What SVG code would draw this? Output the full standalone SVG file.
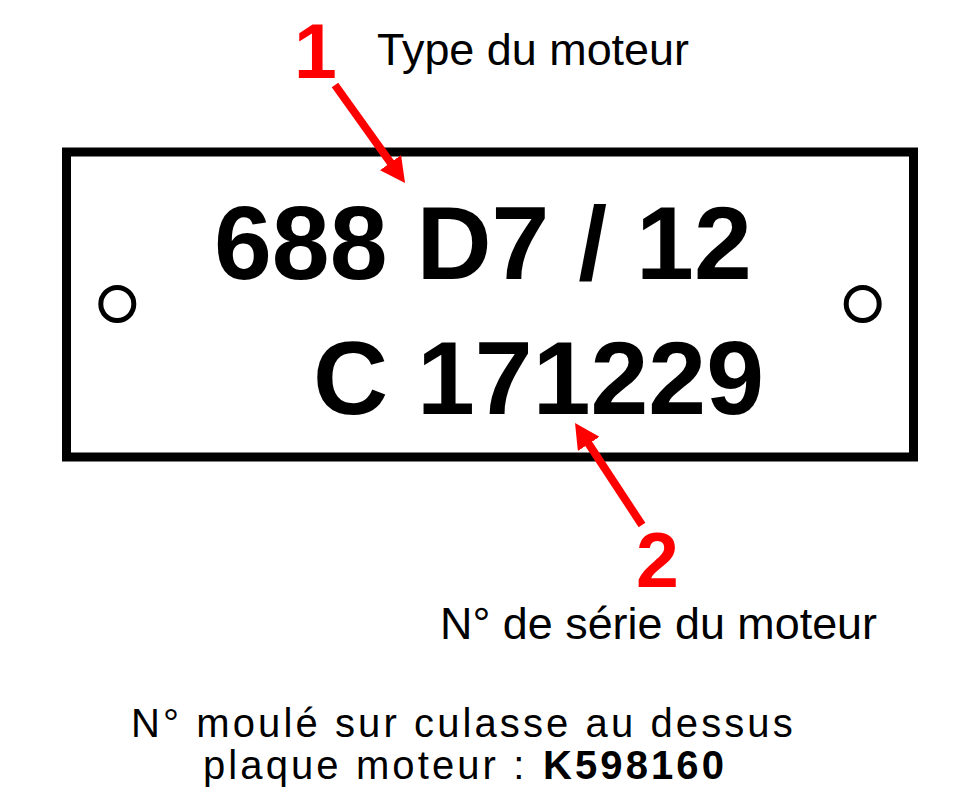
<svg xmlns="http://www.w3.org/2000/svg" width="964" height="800" viewBox="0 0 964 800">
  <style>
    .plate { fill: none; stroke: #000; stroke-width: 9; }
    .hole { fill: none; stroke: #000; stroke-width: 5; }
    .big { font-family: "Liberation Sans", Arial, sans-serif; font-weight: bold; font-size: 104px; fill: #000; }
    .num { font-family: "Liberation Sans", Arial, sans-serif; font-weight: bold; font-size: 77px; fill: #ff0000; }
    .lbl { font-family: "Liberation Sans", Arial, sans-serif; font-size: 44px; fill: #000; }
    .note { font-family: "Liberation Sans", Arial, sans-serif; font-size: 40px; fill: #000; letter-spacing: 3.1px; }
    .arrow { stroke: #ff0000; stroke-width: 8; fill: none; }
  </style>
  <defs>
    <marker id="head" viewBox="0 0 25 26" refX="5" refY="13" markerWidth="25" markerHeight="26" markerUnits="userSpaceOnUse" orient="auto">
      <path d="M0,0 L25,13 L0,26 z" fill="#ff0000"/>
    </marker>
  </defs>
  <rect width="964" height="800" fill="#fff"/>

  <g id="plate">
    <rect class="plate" x="66.5" y="152" width="847" height="305"/>
    <circle class="hole" cx="117.3" cy="304" r="16.5"/>
    <circle class="hole" cx="862.7" cy="304" r="16.5"/>
    <text class="big" x="214" y="279">688 D7 / 12</text>
    <text class="big" x="313" y="414">C 171229</text>
  </g>

  <g id="label1">
    <text class="num" x="294" y="78">1</text>
    <text class="lbl" x="377" y="65" textLength="312" lengthAdjust="spacingAndGlyphs">Type du moteur</text>
  </g>

  <g id="label2">
    <text class="num" x="636" y="587">2</text>
    <text class="lbl" x="440" y="639" textLength="437" lengthAdjust="spacingAndGlyphs">N° de série du moteur</text>
  </g>

  <g id="note">
    <text class="note" x="131" y="737">N° moulé sur culasse au dessus</text>
    <text class="note" x="203" y="779">plaque moteur : <tspan x="543" font-weight="bold">K598160</tspan></text>
  </g>

  <g id="connectors">
    <line class="arrow" x1="335" y1="85" x2="393.4" y2="166.7" marker-end="url(#head)"/>
    <line class="arrow" x1="642" y1="525" x2="586" y2="439.7" marker-end="url(#head)"/>
  </g>
</svg>
